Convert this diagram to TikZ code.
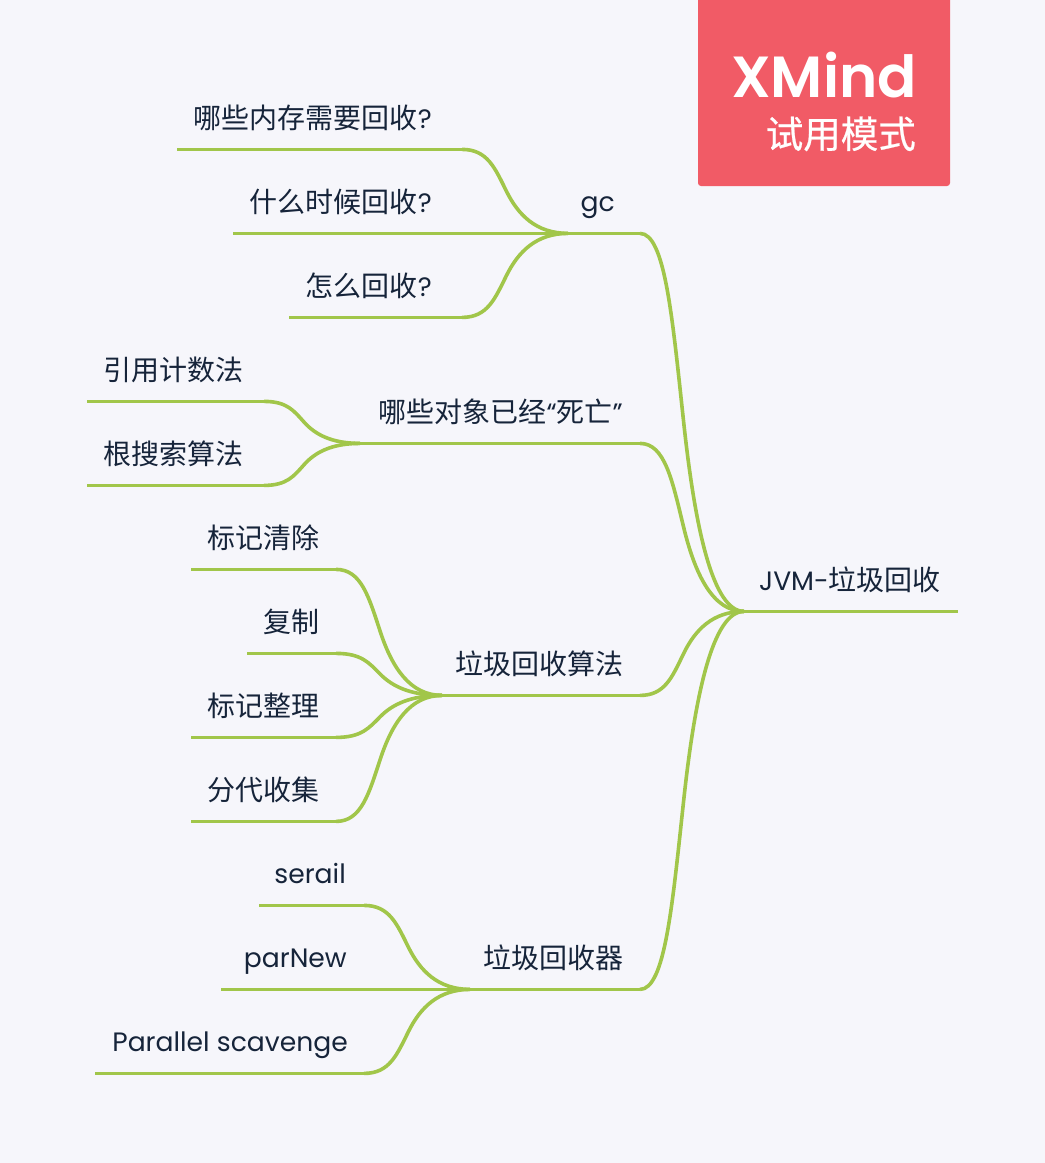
\documentclass[tikz,border=0pt]{standalone}
\usepackage{fontspec}
\setmainfont{Poppins}
\newfontfamily\cjk{Noto Sans CJK SC}
\newfontfamily\cjkmedium[FakeBold=0.6]{Noto Sans CJK SC}
\newfontfamily\logofont{Poppins SemiBold}
\usetikzlibrary{calc}
\definecolor{paper}{HTML}{F6F6FB}
\definecolor{twig}{HTML}{A1C64A}
\definecolor{ink}{HTML}{16243A}
\definecolor{badge}{HTML}{F15B66}
\newcommand{\zh}[1]{{\fontsize{28}{32}\cjk #1}}
% S-shaped link: flat start, steep middle, flat arrival
\newcommand{\twiglink}[2]{%
  \draw[link] (#1) let \p1=(#1),\p2=(#2),\n1={\x2-\x1},\n2={\y2-\y1} in
    .. controls ($(\p1)+(0.24*\n1,0)$) and ($(\p1)+(0.31*\n1,0.22*\n2)$) ..
    ($(\p1)+(0.42*\n1,0.5*\n2)$)
    .. controls ($(\p1)+(0.53*\n1,0.78*\n2)$) and ($(\p1)+(0.7*\n1,\n2)$) .. (#2);}
\tikzset{
  link/.style={draw=twig,line width=3.6pt},
  topic/.style={anchor=base east,inner sep=0pt,text=ink,font=\fontsize{26.6}{32}\selectfont},
  logo/.style={anchor=base east,inner sep=0pt,text=white}
}
\begin{document}
\begin{tikzpicture}[x=1pt,y=-1pt]
\useasboundingbox (0,0) rectangle (1045,1163);
\fill[paper] (0,0) rectangle (1045,1163);

% trial badge
\fill[badge,rounded corners=3pt] (698,-10) rectangle (950,186);
\node[logo,font=\logofont\fontsize{58}{62}\selectfont] (brand) at (917,97.5) {XMind};
\node[logo,font=\cjkmedium\fontsize{37.5}{40}\selectfont] (trial) at (916,148) {试用模式};

% root and hubs
\coordinate (root) at (744,611.4);
\coordinate (rootend) at (958,611.4);
\coordinate (hubA) at (568,233.4);
\coordinate (hubB) at (360,443.4);
\coordinate (hubC) at (442,695.4);
\coordinate (hubD) at (470,989.4);
\coordinate (kneeA) at (640,233.4);
\coordinate (kneeB) at (640,443.4);
\coordinate (kneeC) at (640,695.4);
\coordinate (kneeD) at (640,989.4);

% branch ends
\coordinate (a1s) at (177,149.4); \coordinate (a1k) at (462,149.4);
\coordinate (a2s) at (233,233.4);
\coordinate (a3s) at (289,317.4); \coordinate (a3k) at (462,317.4);
\coordinate (b1s) at (87,401.4);  \coordinate (b1k) at (264,401.4);
\coordinate (b2s) at (87,485.4);  \coordinate (b2k) at (264,485.4);
\coordinate (c1s) at (191,569.4); \coordinate (c1k) at (336,569.4);
\coordinate (c2s) at (247,653.4); \coordinate (c2k) at (336,653.4);
\coordinate (c3s) at (191,737.4); \coordinate (c3k) at (336,737.4);
\coordinate (c4s) at (191,821.4); \coordinate (c4k) at (336,821.4);
\coordinate (d1s) at (259,905.4); \coordinate (d1k) at (364,905.4);
\coordinate (d2s) at (221,989.4);
\coordinate (d3s) at (95,1073.4); \coordinate (d3k) at (364,1073.4);

% connectors
\draw[link] (root) -- (rootend);
\foreach \h/\k in {hubA/kneeA,hubB/kneeB,hubC/kneeC,hubD/kneeD}{
  \draw[link] (\h) -- (\k);
  \twiglink{\k}{root}
}
\foreach \s/\k/\h in {a1s/a1k/hubA,a3s/a3k/hubA,b1s/b1k/hubB,b2s/b2k/hubB,
  c1s/c1k/hubC,c2s/c2k/hubC,c3s/c3k/hubC,c4s/c4k/hubC,
  d1s/d1k/hubD,d3s/d3k/hubD}{
  \draw[link] (\s) -- (\k);
  \twiglink{\k}{\h}
}
\draw[link] (a2s) -- (hubA);
\draw[link] (d2s) -- (hubD);

% labels
\node[topic] (jvm) at (941,590) {JVM-\zh{垃圾回收}};
\node[topic] (gc) at (615,211) {gc};
\node[topic] (a1) at (432,128) {\zh{哪些内存需要回收}?};
\node[topic] (a2) at (432,212) {\zh{什么时候回收}?};
\node[topic] (a3) at (432,296) {\zh{怎么回收}?};
\node[topic] (dead) at (623,422) {\zh{哪些对象已经}“\zh{死亡}”};
\node[topic] (b1) at (244,380) {\zh{引用计数法}};
\node[topic] (b2) at (244,464) {\zh{根搜索算法}};
\node[topic] (algo) at (624,674) {\zh{垃圾回收算法}};
\node[topic] (c1) at (320,548) {\zh{标记清除}};
\node[topic] (c2) at (320,632) {\zh{复制}};
\node[topic] (c3) at (320,716) {\zh{标记整理}};
\node[topic] (c4) at (320,800) {\zh{分代收集}};
\node[topic] (coll) at (624,968) {\zh{垃圾回收器}};
\node[topic] (d1) at (346,883) {serail};
\node[topic] (d2) at (347,967) {parNew};
\node[topic] (d3) at (348,1051) {Parallel scavenge};
\end{tikzpicture}
\end{document}
